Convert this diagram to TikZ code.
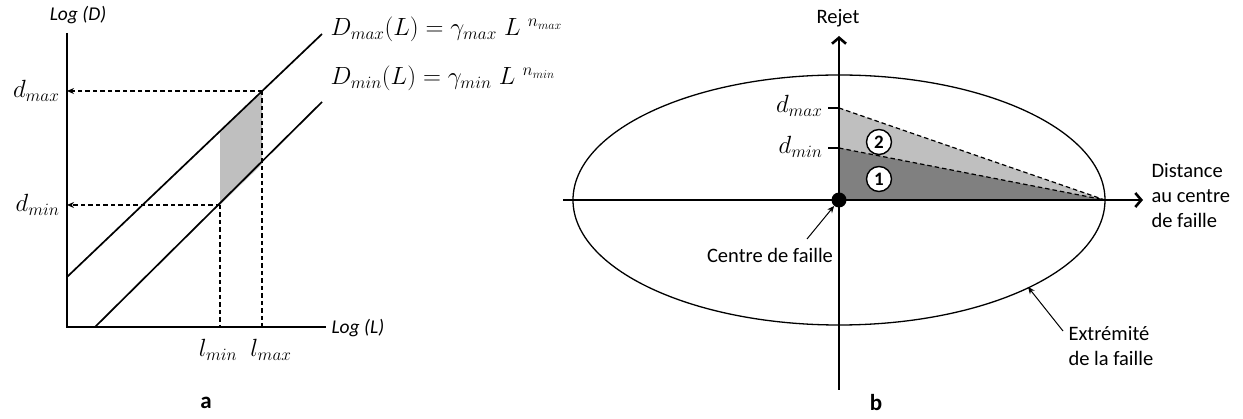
\documentclass[tikz,border=0pt]{standalone}
\usepackage{fontspec}
\newfontfamily\calib{Carlito}
\usetikzlibrary{arrows.meta}
\begin{document}
\begin{tikzpicture}[x=1pt,y=-1pt,
  axis/.style={line width=2.6pt},
  curve/.style={line width=1.7pt},
  guide/.style={line width=1.2pt,dash pattern=on 4.5pt off 3pt},
  smallarrow/.style={-{Stealth[length=7pt,width=6pt]}},
  bigarrow/.style={-{Straight Barb[length=6pt,width=14pt,line width=2.6pt]}},
  sanslbl/.style={font=\calib\fontsize{20.5}{25}\selectfont},
  itlbl/.style={font=\calib\itshape\fontsize{19.5}{22}\selectfont},
  mathlbl/.style={font=\fontsize{26}{30}\selectfont},
  formula/.style={font=\fontsize{24}{30}\selectfont},
  panel/.style={font=\calib\bfseries\fontsize{23}{26}\selectfont},
  numcirc/.style={circle,draw,line width=1.4pt,fill=white,inner sep=0pt,minimum size=25pt,font=\calib\bfseries\fontsize{19}{22}\selectfont}
]
\useasboundingbox (0,0) rectangle (1243,419);

% ---------- panel a ----------
\coordinate (O) at (67,327);
\coordinate (Ytop) at (67,33);
\coordinate (Xend) at (326,327);
\coordinate (A1) at (67,277);
\coordinate (A2) at (322,34);
\coordinate (B1) at (95,327);
\coordinate (B2) at (322,102);
\coordinate (Pmin) at (220,205);
\coordinate (Pmax) at (262,91);
\coordinate (Qmin) at (262,164);
\coordinate (Qmax) at (220,131);
\coordinate (Ymax) at (67,91);
\coordinate (Ymin) at (67,205);
\coordinate (Xmin) at (220,327);
\coordinate (Xmax) at (262,327);

\fill[black!25] (Pmin) -- (Qmin) -- (Pmax) -- (Qmax) -- cycle;
\draw[curve] (A1) -- (A2);
\draw[curve] (B1) -- (B2);
\draw[guide,smallarrow] (Pmax) -- (Ymax);
\draw[guide,smallarrow] (Pmin) -- (Ymin);
\draw[guide] (Pmin) -- (Xmin);
\draw[guide] (Pmax) -- (Xmax);
\draw[axis] (Ytop) -- (O) -- (Xend);

\node[itlbl] (logD) at (78,15) {Log (D)};
\node[itlbl,anchor=west] (logL) at (328,328) {Log (L)};
\node[mathlbl,anchor=east] (dmaxa) at (63,91) {$d_{max}$};
\node[mathlbl,anchor=east] (dmina) at (63,205) {$d_{min}$};
\node[mathlbl] (lmin) at (218,350) {$l_{min}$};
\node[mathlbl] (lmax) at (271,350) {$l_{max}$};
\node[formula,anchor=base west] (fmax) at (327,36) {$D_{max}(L) = \gamma_{max}\ L^{\ n_{max}}$};
\node[formula,anchor=base west] (fmin) at (327,85) {$D_{min}(L) = \gamma_{min}\ L^{\ n_{min}}$};
\node[panel] (pa) at (206,403) {a};

% ---------- panel b ----------
\coordinate (C) at (839,200);
\coordinate (Hl) at (563,200);
\coordinate (Hr) at (1143,200);
\coordinate (Vb) at (839,390);
\coordinate (Vt) at (839,36);
\coordinate (E) at (1105,200);
\coordinate (Tmax) at (839,108);
\coordinate (Tmin) at (839,148);
\coordinate (TmaxL) at (828,108);
\coordinate (TminL) at (828,148);

\fill[black!25] (C) -- (Tmax) -- (E) -- cycle;
\fill[black!50] (C) -- (Tmin) -- (E) -- cycle;
\draw[guide] (Tmax) -- (E);
\draw[guide] (Tmin) -- (E);
\draw[line width=1.3pt] (C) ellipse [x radius=266, y radius=125];
\draw[axis,bigarrow] (Hl) -- (Hr);
\draw[axis,bigarrow] (Vb) -- (Vt);
\draw[line width=1.2pt] (TmaxL) -- (Tmax);
\draw[line width=1.2pt] (TminL) -- (Tmin);
\node[circle,fill=black,inner sep=0pt,minimum size=15pt] (dot) at (C) {};

\node[numcirc] (n2) at (879,142) {2};
\node[numcirc] (n1) at (879,179) {1};

\node[sanslbl] (rejet) at (838,18) {Rejet};
\node[mathlbl,anchor=east] (dmaxb) at (826,106) {$d_{max}$};
\node[mathlbl,anchor=east] (dminb) at (826,147) {$d_{min}$};
\node[sanslbl,anchor=west,align=left] (dist) at (1148,196) {Distance\\au centre\\de faille};
\node[sanslbl] (cdf) at (770,255) {Centre de faille};
\coordinate (cdfa) at (807,239);
\draw[line width=1pt,smallarrow] (cdfa) -- (dot);
\node[sanslbl,anchor=west,align=left] (ext) at (1065,346) {Extrémité\\de la faille};
\coordinate (exta) at (1063,331);
\coordinate (extb) at (1028,287);
\draw[line width=1pt,smallarrow] (exta) -- (extb);
\node[panel] (pb) at (876,403) {b};
\end{tikzpicture}
\end{document}
